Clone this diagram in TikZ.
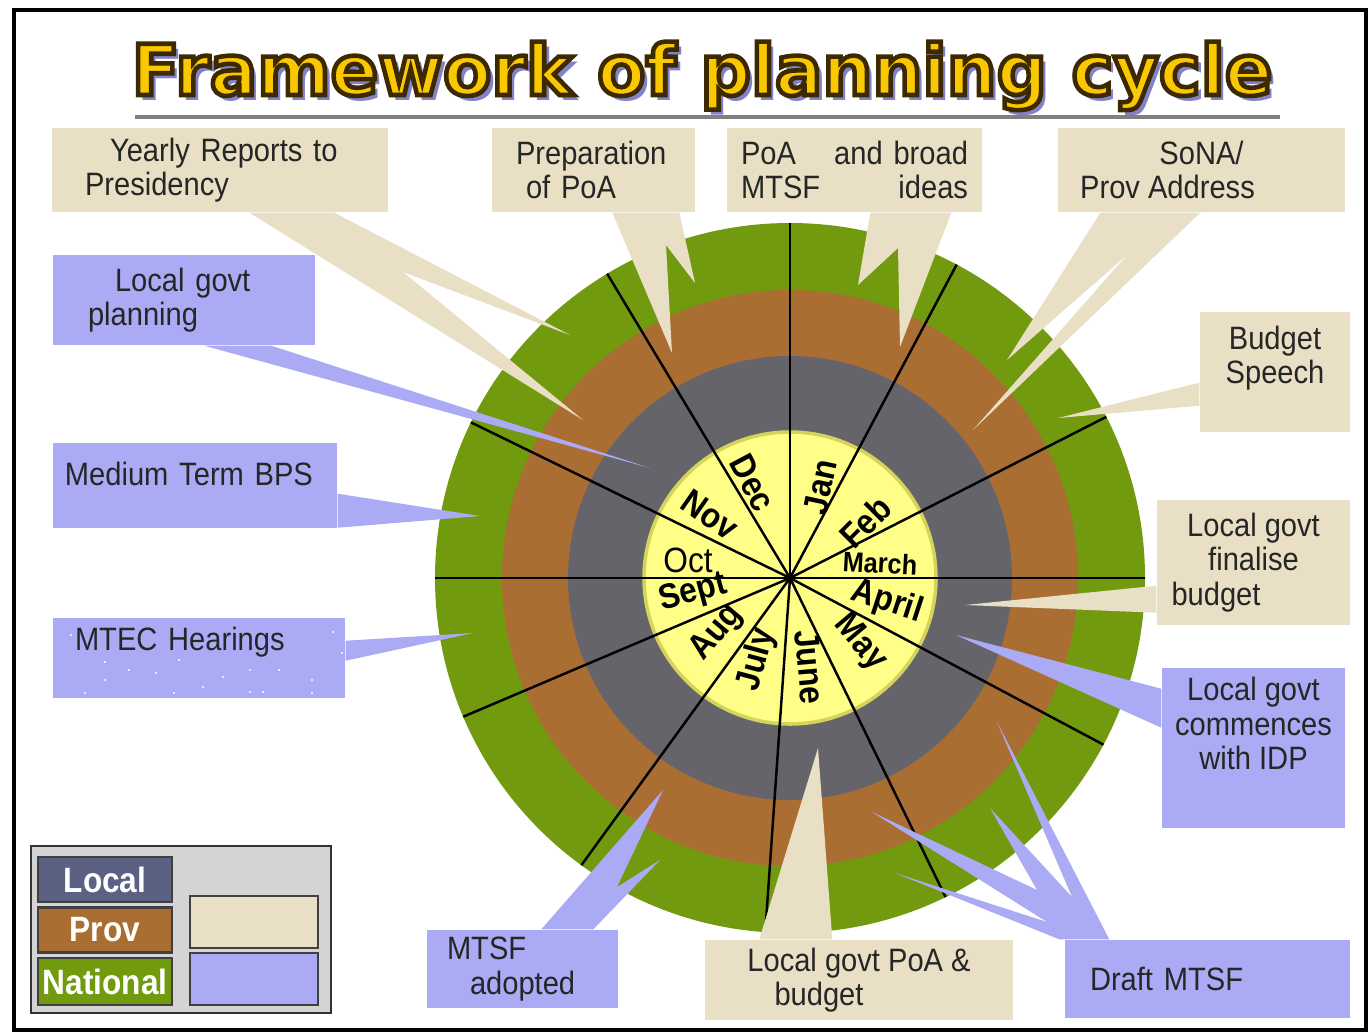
\documentclass[tikz,border=0pt]{standalone}
\usepackage{fontspec}
\setmainfont[FakeStretch=0.9]{Liberation Sans}
\newfontfamily\titlefont{DejaVu Sans}
\usetikzlibrary{calc}

\definecolor{natgreen}{RGB}{113,154,14}
\definecolor{provbrown}{RGB}{170,110,50}
\definecolor{localgray}{RGB}{100,100,106}
\definecolor{monthyellow}{RGB}{255,255,135}
\definecolor{yellowedge}{RGB}{212,212,90}
\definecolor{tanfill}{RGB}{233,223,197}
\definecolor{lavfill}{RGB}{170,170,245}
\definecolor{legslate}{RGB}{90,97,130}
\definecolor{legbg}{RGB}{212,212,212}
\definecolor{titlegold}{RGB}{250,200,0}
\definecolor{titleshade}{RGB}{130,130,200}

\newcommand{\calloutfont}{\fontsize{9.2}{9.8}\selectfont}
\newcommand{\gapfill}{\hskip 0pt plus 1fill\relax}
% fill + stroke text (dark edge round the gold letters)
\newcommand{\edgetext}[1]{\special{pdf:code q 1.3 w 0.24 0.16 0 RG 2 Tr}#1\special{pdf:code Q}}

\tikzset{
  tancall/.style={fill=tanfill, inner sep=0pt, text=black!85, font=\calloutfont},
  lavcall/.style={fill=lavfill, inner sep=0pt, text=black!85, font=\calloutfont},
  month/.style={inner sep=0pt, font=\bfseries\fontsize{10}{12}\selectfont},
  ring/.style={line width=0.7pt},
  legitem/.style={draw=black!75, line width=0.6pt, minimum width=1.34cm, minimum height=0.45cm, inner sep=0pt, text=white, font=\bfseries\fontsize{10}{12}\selectfont},
  titletext/.style={anchor=base, inner sep=0pt, font=\titlefont\bfseries\fontsize{20}{24}\selectfont}
}

\begin{document}
\begin{tikzpicture}
  \useasboundingbox (0,0) rectangle (13.69,10.35);

  % Title
  \node[titletext, text=titleshade] (titleshadow) at (7.07,9.35) {Framework of planning cycle};
  \node[titletext, text=titlegold] (title) at (7.02,9.40) {\edgetext{Framework of planning cycle}};
  \draw[gray, line width=1pt] (1.35,9.18) -- (12.80,9.18);

  % Rings
  \coordinate (c) at (7.90,4.57);
  \fill[natgreen] (c) circle (3.55);
  \fill[provbrown] (c) circle (2.88);
  \fill[localgray] (c) circle (2.22);
  \filldraw[fill=monthyellow, draw=yellowedge, line width=1pt] (c) circle (1.46);
  \foreach \a in {0,27,62,90,121,154,180,203,234,266,296,332}
    \draw[ring] (c) -- ++(\a:3.55);

  % Months
  \node[month, rotate=78] (jan) at (8.20,5.48) {Jan};
  \node[month, rotate=45] (feb) at (8.65,5.13) {Feb};
  \node[month, rotate=-3, font=\bfseries\fontsize{8}{10}\selectfont] (mar) at (8.80,4.72) {March};
  \node[month, rotate=-18] (apr) at (8.87,4.33) {April};
  \node[month, rotate=-50] (may) at (8.60,3.92) {May};
  \node[month, rotate=-85] (jun) at (8.10,3.68) {June};
  \node[month, rotate=75] (jul) at (7.57,3.75) {July};
  \node[month, rotate=50] (aug) at (7.17,4.02) {Aug};
  \node[month, rotate=15] (sep) at (6.93,4.42) {Sept};
  \node[month, font=\fontsize{10}{12}\selectfont] (oct) at (6.88,4.75) {Oct};
  \node[month, rotate=-35] (nov) at (7.10,5.20) {Nov};
  \node[month, rotate=-62] (dec) at (7.53,5.52) {Dec};

  % Tan callouts
  \node[tancall, minimum width=3.36cm, minimum height=0.84cm, text width=2.7cm, align=left] (yearly) at (2.20,8.65) {\hspace*{2.5mm}Yearly Reports to\\Presidency};
  \node[tancall, minimum width=2.03cm, minimum height=0.84cm, text width=1.55cm, align=left] (prep) at (5.935,8.65) {Preparation\\\hspace*{1mm}of PoA};
  \node[tancall, minimum width=2.55cm, minimum height=0.84cm, text width=2.27cm, align=left] (poa) at (8.545,8.65) {PoA\gapfill and broad\\MTSF\gapfill ideas};
  \node[tancall, minimum width=2.87cm, minimum height=0.84cm, align=center] (sona) at (12.015,8.65) {SoNA/\\Prov Address\hspace*{0.68cm}};
  \node[tancall, minimum width=1.5cm, minimum height=1.2cm, align=center] (budget) at (12.75,6.63) {Budget\\Speech\\\mbox{}};
  \node[tancall, minimum width=1.93cm, minimum height=1.25cm, align=center] (finalise) at (12.535,4.725) {Local govt\\finalise\\budget\hspace*{0.75cm}};
  \node[tancall, minimum width=3.08cm, minimum height=0.8cm, align=center] (lgpoa) at (8.59,0.55) {Local govt PoA \&\\budget\hspace*{0.8cm}};

  % Lavender callouts
  \node[lavcall, minimum width=2.62cm, minimum height=0.9cm, text width=1.92cm, align=left] (lgplan) at (1.84,7.35) {\hspace*{2.7mm}Local govt\\planning};
  \node[lavcall, minimum width=2.84cm, minimum height=0.85cm, text width=2.6cm, align=left] (mtbps) at (1.95,5.495) {Medium Term BPS\\[-0.1cm]\mbox{}};
  \node[lavcall, minimum width=2.92cm, minimum height=0.8cm, text width=2.48cm, align=left] (mtec) at (1.99,3.77) {MTEC Hearings\\[0.05cm]\mbox{}};
  \node[lavcall, minimum width=1.83cm, minimum height=1.6cm, align=center] (idp) at (12.535,2.87) {Local govt\\commences\\with IDP\\[0.15cm]\mbox{}};
  \node[lavcall, minimum width=2.85cm, minimum height=0.78cm, text width=2.35cm, align=left] (draft) at (12.075,0.56) {Draft MTSF};
  \node[lavcall, minimum width=1.91cm, minimum height=0.78cm, text width=1.51cm, align=left] (adopted) at (5.225,0.66) {MTSF\\\hspace*{2.3mm}adopted};
  \foreach \p in {(0.71,4.00),(1.05,3.73),(1.29,3.65),(0.85,3.42),(1.56,3.62),(1.79,3.75),(2.03,3.48),(2.23,3.58),(2.50,3.65),(2.63,3.43),(2.79,3.65),(3.12,3.55),(3.33,4.03),(3.42,3.82),(3.12,3.42),(1.05,3.55),(1.74,3.42),(2.50,3.43)}
    \fill[white] \p circle (0.012);

  % Tan pointers
  \fill[tanfill] ($(yearly.south west)+(1.98,0)$) -- (5.83,6.15) -- (4.03,7.63) -- (5.70,7.00) -- ($(yearly.south west)+(2.83,0)$) -- cycle;
  \fill[tanfill] ($(prep.south west)+(1.21,0)$) -- (6.72,6.82) -- (6.66,7.90) -- (6.95,7.52) -- ($(prep.south west)+(1.88,0)$) -- cycle;
  \fill[tanfill] ($(poa.south west)+(1.44,0)$) -- (8.58,7.50) -- (8.98,7.87) -- (9.00,6.88) -- ($(poa.south west)+(2.25,0)$) -- cycle;
  \fill[tanfill] ($(sona.south west)+(0.43,0)$) -- (10.07,6.75) -- (11.27,7.80) -- (9.73,6.05) -- ($(sona.south west)+(1.43,0)$) -- cycle;
  \fill[tanfill] ($(budget.south west)+(0,0.50)$) -- (10.58,6.17) -- ($(budget.south west)+(0,0.27)$) -- cycle;
  \fill[tanfill] ($(finalise.south west)+(0,0.40)$) -- (9.65,4.30) -- ($(finalise.south west)+(0,0.13)$) -- cycle;
  \fill[tanfill] ($(lgpoa.north west)+(0.55,0)$) -- (8.18,2.87) -- ($(lgpoa.north west)+(1.28,0)$) -- cycle;

  % Lavender pointers
  \fill[lavfill] ($(lgplan.south west)+(1.52,0)$) -- (6.50,5.67) -- ($(lgplan.south west)+(2.19,0)$) -- cycle;
  \fill[lavfill] ($(mtbps.south east)+(0,0.35)$) -- (4.80,5.19) -- ($(mtbps.south east)+(0,0.01)$) -- cycle;
  \fill[lavfill] ($(mtec.south east)+(0,0.58)$) -- (4.73,4.02) -- ($(mtec.south east)+(0,0.38)$) -- cycle;
  \fill[lavfill] ($(idp.south west)+(0,1.40)$) -- (9.56,4.00) -- ($(idp.south west)+(0,1.01)$) -- cycle;
  \fill[lavfill] ($(adopted.north west)+(1.15,0)$) -- (6.63,2.45) -- (6.17,1.48) -- (6.60,1.75) -- ($(adopted.north west)+(1.67,0)$) -- cycle;
  \fill[lavfill] ($(draft.north west)+(-0.05,0)$) -- (8.95,1.62) -- (10.47,1.13) -- (8.72,2.23) -- (10.37,1.45) -- (9.90,2.27) -- (10.72,1.38) -- (9.97,3.13) -- ($(draft.north west)+(0.45,0)$) -- cycle;

  % Legend
  \node[draw=black!80, line width=0.8pt, fill=legbg, minimum width=3.0cm, minimum height=1.67cm] (legend) at (1.81,1.055) {};
  \node[legitem, fill=legslate] (leglocal) at (1.05,1.555) {Local};
  \node[legitem, fill=provbrown] (legprov) at (1.05,1.05) {Prov};
  \node[legitem, fill=natgreen, minimum height=0.47cm] (legnat) at (1.05,0.535) {National};
  \node[legitem, fill=tanfill, minimum width=1.28cm, minimum height=0.52cm] (legtan) at (2.54,1.13) {};
  \node[legitem, fill=lavfill, minimum width=1.28cm, minimum height=0.52cm] (leglav) at (2.54,0.56) {};

  % Frame
  \draw[line width=1.2pt] (0.14,0.05) rectangle (13.66,10.25);
\end{tikzpicture}
\end{document}
